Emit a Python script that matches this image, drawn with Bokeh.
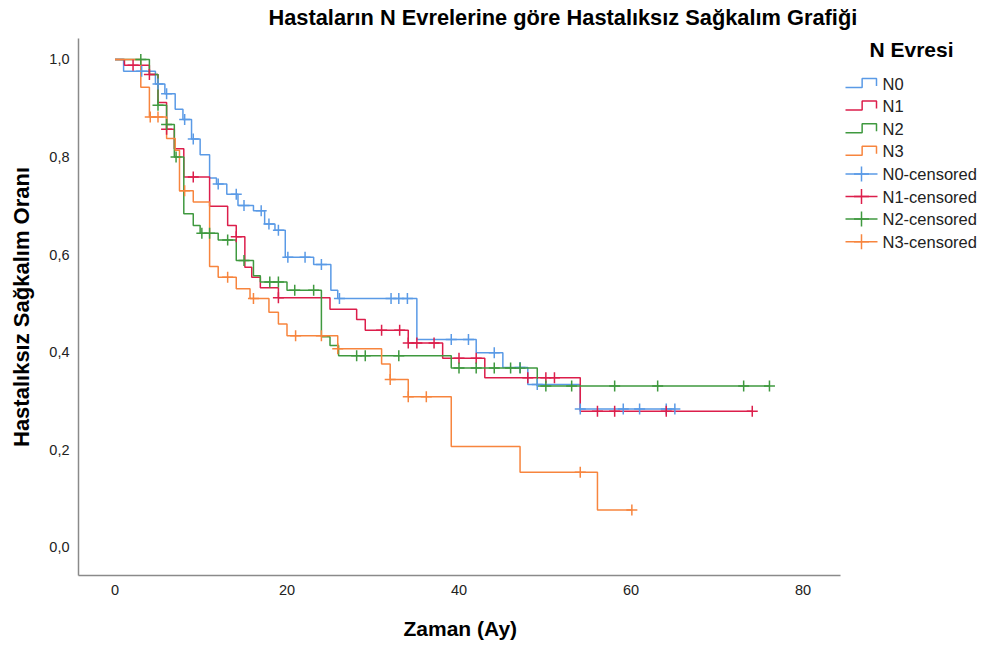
import numpy as np
from bokeh.plotting import figure
from bokeh.models import Range1d, FixedTicker, CustomJSTickFormatter, Title, LinearAxis
from bokeh.embed import file_html
from bokeh.resources import INLINE
from bokeh.core.properties import value

# ---------------- data ----------------
groups = ["N0", "N1", "N2", "N3"]
colors = ["#5A9AE6", "#DC1E4B", "#3F993F", "#F7853E"]

# event times (months) and survival proportion after each step
n0_time = [0, 1.0, 4.7, 5.8, 7.0, 7.9, 8.9, 9.9, 11.0, 11.8, 13.0, 14.3, 16.1, 17.4,
           18.6, 19.8, 23.1, 25.1, 25.9, 35.1, 42.0, 45.1, 48.0, 54.1]
n0_surv = [1.0, 0.976, 0.950, 0.930, 0.898, 0.877, 0.837, 0.805, 0.757, 0.745, 0.724,
           0.701, 0.690, 0.663, 0.650, 0.595, 0.580, 0.527, 0.510, 0.426, 0.399, 0.369,
           0.334, 0.284]
n0_cens = [3.1, 5.0, 6.0, 8.1, 9.1, 12.0, 14.1, 15.0, 17.0, 17.9, 19.0, 20.1, 22.1, 24.0,
           26.1, 32.1, 33.0, 34.0, 39.1, 41.1, 44.1, 47.1, 49.1, 54.1, 59.1, 61.0, 64.1, 65.1]

n1_time = [0, 1.1, 4.0, 5.0, 6.0, 6.9, 8.0, 11.0, 13.1, 14.1, 15.1, 15.9, 16.9, 19.0,
           25.0, 28.1, 29.1, 34.1, 38.1, 43.0, 54.1]
n1_surv = [1.0, 0.988, 0.969, 0.912, 0.857, 0.817, 0.759, 0.699, 0.660, 0.637, 0.574,
           0.554, 0.532, 0.512, 0.488, 0.467, 0.445, 0.419, 0.388, 0.348, 0.279]
n1_cens = [2.1, 4.0, 6.0, 9.1, 14.1, 19.0, 31.0, 33.1, 34.1, 35.1, 37.1, 40.0, 42.0,
           48.0, 50.1, 51.1, 56.1, 58.1, 64.1, 74.1]

n2_time = [0, 4.0, 5.0, 6.0, 6.9, 8.0, 9.1, 9.9, 12.0, 14.1, 16.1, 16.9, 20.0, 24.0,
           25.0, 26.0, 39.1, 49.1]
n2_surv = [1.0, 0.969, 0.906, 0.867, 0.800, 0.684, 0.660, 0.644, 0.630, 0.588, 0.557,
           0.544, 0.527, 0.432, 0.414, 0.393, 0.368, 0.331]
n2_cens = [3.0, 5.0, 6.0, 7.1, 10.1, 11.0, 13.1, 15.0, 18.0, 19.0, 20.9, 23.1, 28.1,
           29.1, 33.0, 40.0, 42.0, 44.1, 46.0, 47.1, 50.1, 53.1, 58.1, 63.1, 73.1, 76.1]

n3_time = [0, 3.0, 4.0, 6.0, 7.0, 7.5, 9.1, 11.0, 12.0, 14.1, 15.7, 17.9, 19.0, 20.0,
           25.9, 31.0, 32.0, 34.1, 39.1, 47.1, 56.1]
n3_surv = [1.0, 0.943, 0.882, 0.838, 0.814, 0.731, 0.708, 0.576, 0.554, 0.530, 0.510,
           0.482, 0.458, 0.434, 0.407, 0.376, 0.344, 0.309, 0.207, 0.154, 0.077]
n3_cens = [4.1, 5.0, 8.1, 13.1, 16.1, 21.0, 24.0, 25.9, 32.0, 34.1, 36.2, 54.1, 60.1]

x_ticks = [0, 20, 40, 60, 80]
y_ticks = [0.0, 0.2, 0.4, 0.6, 0.8, 1.0]

title_text = "Hastaların N Evrelerine göre Hastalıksız Sağkalım Grafiği"
x_label = "Zaman (Ay)"
y_label = "Hastalıksız Sağkalım Oranı"
legend_title = "N Evresi"
legend_labels = groups + [g + "-censored" for g in groups]

series = [
    (n0_time, n0_surv, n0_cens),
    (n1_time, n1_surv, n1_cens),
    (n2_time, n2_surv, n2_cens),
    (n3_time, n3_surv, n3_cens),
]

FONT = "Liberation Sans"

# ---------------- figure ----------------
# the frame reaches the right edge so the legend block can live inside it;
# the x axis itself is bounded to the plotting area (0..~84 months)
X_MIN, X_AXIS_END, X_FRAME_END = -4.244, 84.36, 101.337
p = figure(width=986, height=647, output_backend="svg", toolbar_location=None,
           x_range=Range1d(X_MIN, X_FRAME_END), y_range=Range1d(-0.0574, 1.0430),
           min_border_left=78, min_border_right=0, min_border_top=38,
           min_border_bottom=72)
p.outline_line_color = None
p.xgrid.grid_line_color = None
p.ygrid.grid_line_color = None
p.background_fill_color = "white"
p.border_fill_color = "white"

xax = p.xaxis[0]
yax = p.yaxis[0]

# pixel helper ranges for the legend block at the right
p.extra_x_ranges = {"px": Range1d(78, 986)}
p.extra_y_ranges = {"py": Range1d(575, 38)}


def spacer_axis(size):
    # an invisible axis (no line, invisible tick, empty label) used only as spacing
    return LinearAxis(ticker=FixedTicker(ticks=[0], minor_ticks=[]),
                      formatter=CustomJSTickFormatter(code="return '';"),
                      axis_line_color=None, major_tick_line_color=None,
                      minor_tick_line_color=None, major_tick_out=size, major_tick_in=0,
                      minor_tick_out=0, minor_tick_in=0, major_label_standoff=0,
                      major_label_text_font_size="1px")


# axes
for ax in (xax, yax):
    ax.axis_line_color = "#8a8a8a"
    ax.axis_line_width = 1.5
    ax.major_tick_line_color = None
    ax.minor_tick_line_color = None
    ax.major_label_text_font = FONT
    ax.major_label_text_font_size = "14.5px"
    ax.major_label_text_color = "#222222"
    ax.axis_label_text_font = FONT
    ax.axis_label_text_font_style = "bold"
    ax.axis_label_text_color = "#000000"

xax.ticker = FixedTicker(ticks=x_ticks)
xax.bounds = (X_MIN, X_AXIS_END)
xax.major_label_standoff = 3

yax.ticker = FixedTicker(ticks=y_ticks)
yax.formatter = CustomJSTickFormatter(code="return tick.toFixed(1).replace('.', ',');")
yax.major_label_standoff = 3
yax.axis_label = y_label
yax.axis_label_text_font_size = "22px"
yax.axis_label_standoff = 12

# title (lifted by a spacer between it and the frame)
p.add_layout(spacer_axis(9), "above")
p.title.text = title_text
p.title.align = "left"
p.title.offset = 190
p.title.text_font = FONT
p.title.text_font_size = "21.8px"
p.title.text_font_style = "bold"
p.title.text_color = "#000000"
p.title.standoff = 0

# x-axis title centred under the bounded axis (not under the whole frame)
p.add_layout(spacer_axis(16), "below")
xt = Title(text=x_label, align="left", offset=325, text_font=FONT, text_font_size="21px",
           text_font_style="bold", text_color="#000000", standoff=2)
p.add_layout(xt, "below")

# ---------------- curves ----------------
for (t, s, c), col in zip(series, colors):
    t = np.asarray(t, dtype=float)
    s = np.asarray(s, dtype=float)
    c = np.asarray(c, dtype=float)
    end = max(t.max(), c.max())
    xs = np.append(t, end)
    ys = np.append(s, s[-1])
    p.step(xs, ys, mode="after", line_color=col, line_width=1.5)

for (t, s, c), col in zip(series, colors):
    t = np.asarray(t, dtype=float)
    s = np.asarray(s, dtype=float)
    c = np.asarray(c, dtype=float)
    idx = np.searchsorted(t, c, side="right") - 1
    p.scatter(c, s[idx], marker="cross", size=11, line_color=col, line_width=1.5)

# ---------------- legend block ----------------
lg_x0, lg_icon_w, lg_text_x = 845, 32, 882
lg_y0, lg_dy = 83, 22.6
lg_rows = [lg_y0 + i * lg_dy for i in range(len(legend_labels))]

p.text(x=[869], y=[49], text=[legend_title], x_range_name="px", y_range_name="py",
       text_font=value(FONT), text_font_size="21px", text_font_style="bold",
       text_baseline="middle", text_align="left", text_color="#000000")

for i, col in enumerate(colors):
    yc = lg_rows[i]
    xm = lg_x0 + lg_icon_w * 0.52
    xr = lg_x0 + lg_icon_w - 1
    p.line([lg_x0, xm, xm, xr, xr], [yc + 4, yc + 4, yc - 5, yc - 5, yc + 2.5],
           x_range_name="px", y_range_name="py", line_color=col, line_width=1.5)
for i, col in enumerate(colors):
    yc = lg_rows[4 + i]
    p.line([lg_x0, lg_x0 + lg_icon_w], [yc, yc], x_range_name="px", y_range_name="py",
           line_color=col, line_width=1.5)
    p.scatter([lg_x0 + lg_icon_w / 2], [yc], marker="cross", size=15,
              x_range_name="px", y_range_name="py", line_color=col, line_width=1.5)

p.text(x=[lg_text_x] * len(legend_labels), y=lg_rows, text=legend_labels,
       x_range_name="px", y_range_name="py", text_font=value(FONT),
       text_font_size="16.5px", text_baseline="middle", text_align="left",
       text_color="#222222")

open("out.html", "w").write(file_html(p, INLINE))
